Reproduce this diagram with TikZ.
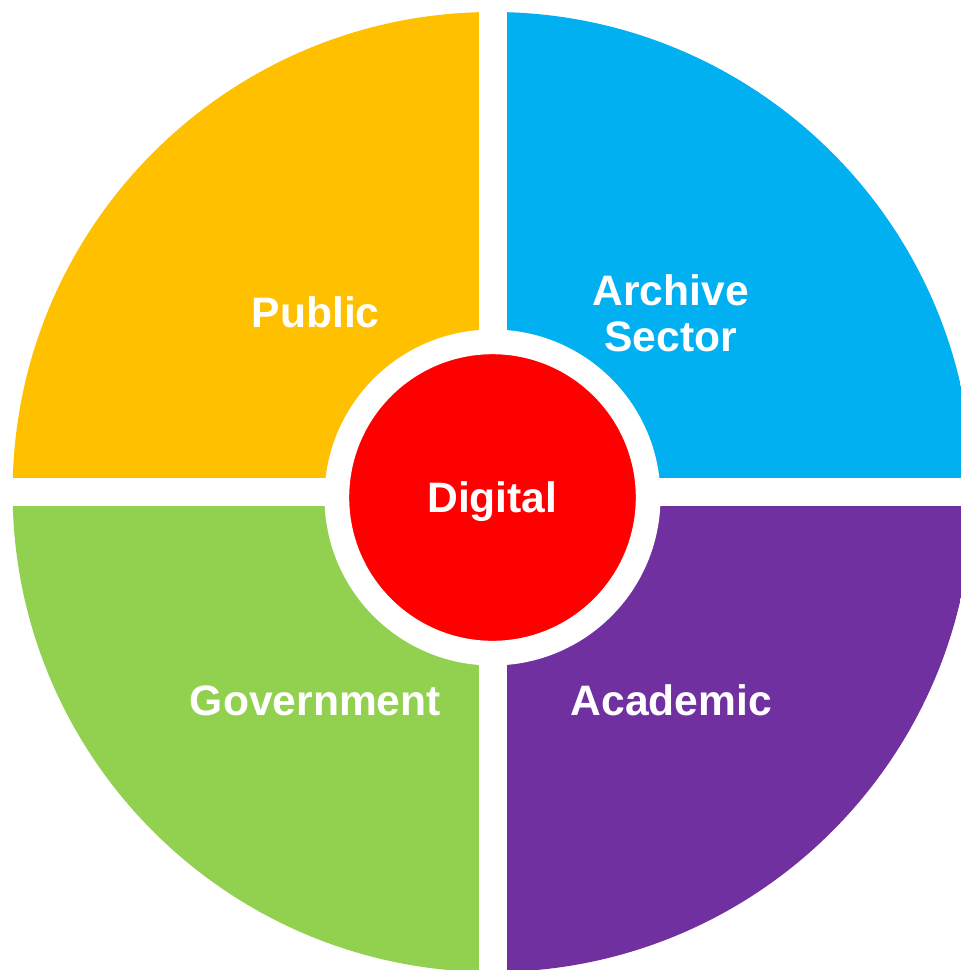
\documentclass[tikz,border=0pt]{standalone}
\usepackage{fontspec}
\setmainfont{Liberation Sans}
\definecolor{pubcol}{HTML}{FFC000}
\definecolor{arccol}{HTML}{00B0F0}
\definecolor{govcol}{HTML}{92D050}
\definecolor{acacol}{HTML}{7030A0}
\definecolor{digcol}{HTML}{FF0000}
\tikzset{
  lbl/.style = {text=white, anchor=base, align=center, inner sep=0pt,
    font=\fontsize{21.3}{23}\selectfont\bfseries},
}
\begin{document}
\begin{tikzpicture}[x = 0.5pt, y = -0.5pt]
	\useasboundingbox (0,0) rectangle (961,970);
	\clip (0,0) rectangle (961,970);

	% four quarters, cut by the big circle
	\begin{scope}
		\clip (492.6,492) circle[radius = 240pt];
		\foreach \c/\xa/\ya/\xb/\yb in {pubcol/0/0/478.6/477.7, arccol/506.7/0/990/477.7,
				govcol/0/506.3/478.6/990, acacol/506.7/506.3/990/990}{
				\fill [\c](\xa,\ya) rectangle (\xb,\yb);
			}
	\end{scope}

	\node (digital)[circle, fill = digcol, draw = white, line width = 12.35pt,
		minimum size = 155.65pt, inner sep = 0pt] at(492.5, 497.5)  {};

	\node (pub)[lbl] at(315.6, 327.3)  {Public};
	\node (arc)[lbl] at(670.8, 351)  {Archive\\Sector};
	\node (gov)[lbl] at(315.4, 715)  {Government};
	\node (aca)[lbl] at(671.2, 715)  {Academic};
	\node (dig)[lbl] at(492.4, 512.7)  {Digital};
\end{tikzpicture}
\end{document}
